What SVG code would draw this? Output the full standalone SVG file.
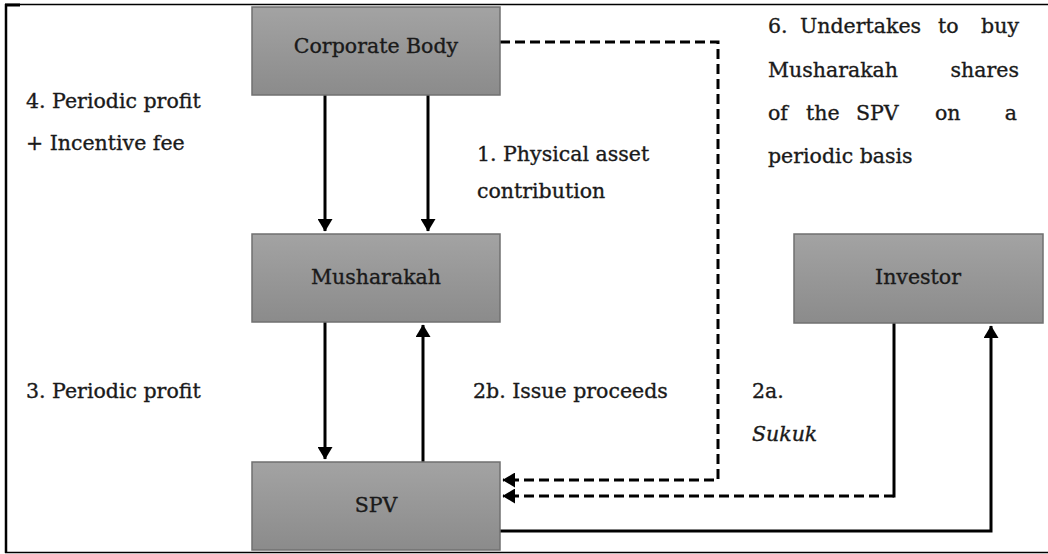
<svg xmlns="http://www.w3.org/2000/svg" width="1048" height="554" viewBox="0 0 1048 554">
<defs>
<linearGradient id="g" x1="0" y1="0" x2="0" y2="1">
<stop offset="0" stop-color="#a3a3a3"/>
<stop offset="1" stop-color="#8b8b8b"/>
</linearGradient>
<marker id="ah" markerWidth="5" markerHeight="5" refX="4" refY="2.5" orient="auto" markerUnits="strokeWidth">
<path d="M0,0 L4.2,2.5 L0,5 Z" fill="#000"/>
</marker>
<style>
.box{fill:url(#g);stroke:#707070;stroke-width:1.5}
.lbl{font-family:"DejaVu Serif","Liberation Serif",serif;font-size:20.5px;fill:#1a1a1a;stroke:#1a1a1a;stroke-width:0.35}
.nl{font-family:"DejaVu Serif","Liberation Serif",serif;font-size:20.5px;fill:#1a1a1a;stroke:#1a1a1a;stroke-width:0.35;text-anchor:middle}
.ln{fill:none;stroke:#000;stroke-width:3}
.dl{fill:none;stroke:#000;stroke-width:3;stroke-dasharray:10,5}
</style>
</defs>
<rect width="1048" height="554" fill="#fff"/>
<g id="frame" fill="none" stroke="#000">
<line x1="5" y1="4.5" x2="1048" y2="4.5" stroke-width="1.5"/>
<line x1="5" y1="5" x2="20" y2="5" stroke-width="3"/>
<line x1="6" y1="4" x2="6" y2="553" stroke-width="2.5"/>
<line x1="5" y1="552.5" x2="1048" y2="552.5" stroke-width="1.5"/>
</g>
<g id="connectors">
<line class="ln" x1="325" y1="95" x2="325" y2="231" marker-end="url(#ah)"/>
<line class="ln" x1="428" y1="95" x2="428" y2="231" marker-end="url(#ah)"/>
<line class="ln" x1="325" y1="322" x2="325" y2="459" marker-end="url(#ah)"/>
<line class="ln" x1="423" y1="462" x2="423" y2="325" marker-end="url(#ah)"/>
<path class="dl" d="M500,42 H718 V480 H503" marker-end="url(#ah)"/>
<line class="ln" x1="894" y1="323" x2="894" y2="497.5"/>
<path class="dl" d="M894,496 H503" marker-end="url(#ah)"/>
<path class="ln" d="M500,531 H991 V326" marker-end="url(#ah)"/>
</g>
<g id="corporate-body">
<rect class="box" x="252" y="7" width="248" height="88"/>
<text class="nl" x="376" y="53">Corporate Body</text>
</g>
<g id="musharakah">
<rect class="box" x="252" y="234" width="248" height="88"/>
<text class="nl" x="376" y="284">Musharakah</text>
</g>
<g id="spv">
<rect class="box" x="252" y="462" width="248" height="88"/>
<text class="nl" x="376" y="512">SPV</text>
</g>
<g id="investor">
<rect class="box" x="794" y="234" width="249" height="89"/>
<text class="nl" x="918" y="284">Investor</text>
</g>
<g id="labels">
<text class="lbl" x="26" y="108">4. Periodic profit</text>
<text class="lbl" x="26" y="150">+ Incentive fee</text>
<text class="lbl" x="477" y="161">1. Physical asset</text>
<text class="lbl" x="477" y="198">contribution</text>
<text class="lbl" x="26" y="398">3. Periodic profit</text>
<text class="lbl" x="473" y="398">2b. Issue proceeds</text>
<text class="lbl" x="752" y="398">2a.</text>
<text class="lbl" x="752" y="441" font-style="italic">Sukuk</text>
<text class="lbl" y="33"><tspan x="768">6.</tspan><tspan x="800">Undertakes</tspan><tspan x="938">to</tspan><tspan x="1019" text-anchor="end">buy</tspan></text>
<text class="lbl" y="77"><tspan x="768">Musharakah</tspan><tspan x="1019" text-anchor="end">shares</tspan></text>
<text class="lbl" y="120"><tspan x="768">of</tspan><tspan x="806">the</tspan><tspan x="856">SPV</tspan><tspan x="935">on</tspan><tspan x="1017" text-anchor="end">a</tspan></text>
<text class="lbl" x="768" y="163">periodic basis</text>
</g>
</svg>
